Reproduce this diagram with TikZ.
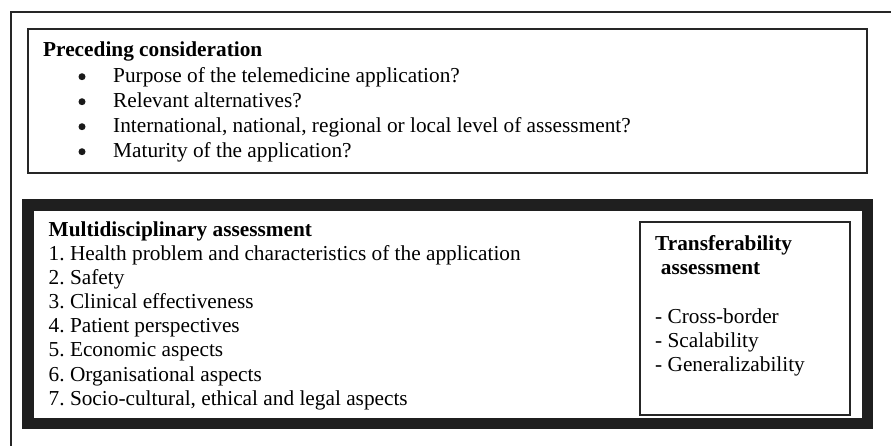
\documentclass[tikz,border=0pt]{standalone}
\usepackage{fontspec}
\setmainfont{Liberation Serif}
\usepackage{tikz}
\usetikzlibrary{positioning,calc}

\begin{document}
\begin{tikzpicture}[x=1pt,y=-1pt,
	txt/.style={anchor=base west,inner sep=0pt,font=\fontsize{21.3}{24}\selectfont},
	head/.style={txt,font=\fontsize{21.3}{24}\selectfont\bfseries},
	dot/.style={circle,fill=black!90,inner sep=0pt,minimum size=7pt},
	thinbox/.style={draw=black!85,line width=1.3pt},
	thickbox/.style={draw=black!88,line width=11.5pt}]
	\useasboundingbox (0,0) rectangle (891,445);
	% frame and boxes
	\draw[black!85,line width=2.6pt] (11,460) -- (11,12) -- (900,12);
	\draw[thinbox] (28,29) rectangle (867,173);
	\draw[thickbox] (28,205) rectangle (867.5,423.5);
	\draw[thinbox] (640,222) rectangle (850,415);
	% preceding consideration
	\node[head] (pre) at (43,56.7) {Preceding consideration};
	\foreach \t [count=\i] in {Purpose of the telemedicine application?,
			Relevant alternatives?,
			{International, national, regional or local level of assessment?},
			Maturity of the application?}{
		\node[txt] (pre\i) at (113,57.7+25*\i) {\t};
		\node[dot] (dot\i) at (82,51.7+25*\i) {};
	}
	% multidisciplinary
	\node[head] (multi) at (48.5,236.7) {Multidisciplinary assessment};
	\foreach \t [count=\i] in {Health problem and characteristics of the application,
			Safety,Clinical effectiveness,Patient perspectives,Economic aspects,
			Organisational aspects,{Socio-cultural, ethical and legal aspects}}
		\node[txt] (multi\i) at (48.5,236.7+24.05*\i) {\i.\ \t};
	% transferability
	\node[head] (trans) at (655,250) {Transferability};
	\node[head] (trans0) at (660.7,274.3) {assessment};
	\foreach \t [count=\i] in {Cross-border,Scalability,Generalizability}
		\node[txt] (tr\i) at (655,299.3+24*\i) {- \t};
\end{tikzpicture}
\end{document}
